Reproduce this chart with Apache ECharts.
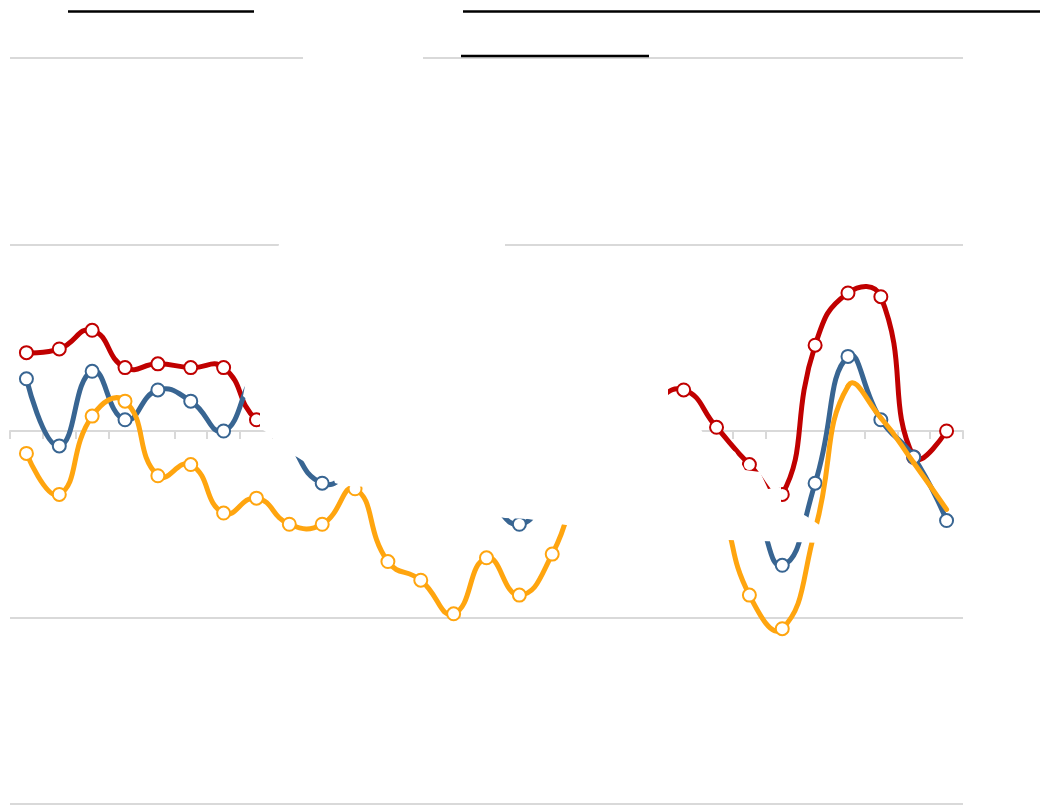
<!DOCTYPE html>
<html>
<head>
<meta charset="utf-8">
<script src="https://cdn.jsdelivr.net/npm/echarts@6/dist/echarts.min.js"></script>
<style>
  html, body { margin: 0; padding: 0; background: #ffffff; }
  #chart { width: 1050px; height: 808px; }
</style>
</head>
<body>
<div id="chart"></div>
<script>
// ---- data (hidden stretches estimated) ----
var categories = ['1','2','3','4','5','6','7','8','9','10','11','12','13','14','15',
                  '16','17','18','19','20','21','22','23','24','25','26','27','28','29'];
var redValues = [0.42, 0.44, 0.54, 0.34, 0.36, 0.34, 0.34, 0.06, 0.01, -0.10,
                 -0.05, -0.18, -0.21, -0.26, -0.21, -0.16, -0.08, -0.10, 0.01, 0.14,
                 0.22, 0.02, -0.18, -0.34, 0.46, 0.74, 0.72, -0.14, 0.00];
var blueValues = [0.28, -0.08, 0.32, 0.06, 0.22, 0.16, 0.00, 0.27, -0.05, -0.28,
                  -0.21, -0.13, -0.24, -0.32, -0.37, -0.50, -0.32, -0.21, -0.16, -0.26,
                  -0.21, -0.26, -0.37, -0.72, -0.28, 0.40, 0.06, -0.14, -0.48];
var orangeValues = [-0.12, -0.34, 0.08, 0.16, -0.24, -0.18, -0.44, -0.36, -0.50, -0.50,
                    -0.31, -0.70, -0.80, -0.98, -0.68, -0.88, -0.66, -0.21, -0.05, -0.13,
                    -0.18, -0.37, -0.88, -1.06, -0.53, 0.24, 0.07, -0.17, -0.42];
var orangeNoMarkerFrom = 24;
var yTicks = [-2, -1, 0, 1, 2];

// ---- styles ----
var RED = '#c00000', BLUE = '#386592', ORANGE = '#ffa50f', GRID = '#d9d9d9';
var SMOOTH = 0.5;

function cpAfter(prev, p, next) {
  if (!prev) return p;
  var vx = next[0] - prev[0], vy = next[1] - prev[1];
  var d0 = Math.hypot(p[0] - prev[0], p[1] - prev[1]);
  var d1 = Math.hypot(next[0] - p[0], next[1] - p[1]);
  var r = SMOOTH * d1 / (d0 + d1);
  return [p[0] + vx * r, p[1] + vy * r];
}
function cpBefore(prev, p, next) {
  if (!next) return p;
  var vx = next[0] - prev[0], vy = next[1] - prev[1];
  var d0 = Math.hypot(p[0] - prev[0], p[1] - prev[1]);
  var d1 = Math.hypot(next[0] - p[0], next[1] - p[1]);
  var r = SMOOTH * d0 / (d0 + d1);
  return [p[0] - vx * r, p[1] - vy * r];
}

function curveSeries(name, values, color, z) {
  return {
    name: name,
    type: 'custom',
    z: z,
    silent: true,
    encode: { x: 0, y: 1 },
    data: values.map(function (v, i) { return [i, v]; }),
    renderItem: function (params, api) {
      var i = params.dataIndex, n = values.length;
      if (i >= n - 1) return null;
      var P = function (k) { return api.coord([k, values[k]]); };
      var p0 = P(i), p1 = P(i + 1);
      var prev = i > 0 ? P(i - 1) : null;
      var next2 = i + 2 < n ? P(i + 2) : null;
      var a = cpAfter(prev, p0, p1);
      var b = cpBefore(p0, p1, next2);
      return {
        type: 'bezierCurve',
        shape: { x1: p0[0], y1: p0[1], x2: p1[0], y2: p1[1],
                 cpx1: a[0], cpy1: a[1], cpx2: b[0], cpy2: b[1] },
        style: { stroke: color, lineWidth: 5, fill: null, lineCap: 'round' }
      };
    }
  };
}

function markerSeries(name, values, color, z, noMarkerFrom) {
  return {
    name: name,
    type: 'scatter',
    z: z,
    silent: true,
    symbol: 'circle',
    symbolSize: 13,
    data: values.map(function (v, i) {
      return (noMarkerFrom != null && i >= noMarkerFrom) ? '-' : v;
    }),
    itemStyle: { color: '#ffffff', borderColor: color, borderWidth: 2, opacity: 1 },
    emphasis: { disabled: true }
  };
}

var chart = echarts.init(document.getElementById('chart'), null, { renderer: 'canvas' });

var occluderBig = [
  [281,236],[505,236],[505,250],[560,300],[668,385],[668,400],[690,410],[703,433],
  [735,452],[745,470],[760,472],[768,489],[781,487],[781,503],[806,516],[824,528],
  [824,543],[728,540],[600,530],[566,525],[528,519],[505,518],[440,506],[385,500],
  [370,487],[345,486],[335,483],[331,471],[316,469],[297,457],[286,452],[266,432],
  [260,428],[260,411],[243,396],[247,375],[281,236]
];

chart.setOption({
  animation: false,
  backgroundColor: '#ffffff',
  grid: { left: 10, right: 87, top: 58, bottom: 4, containLabel: false },
  xAxis: {
    type: 'category',
    data: categories,
    boundaryGap: true,
    axisLine: { onZero: true, lineStyle: { color: GRID, width: 2 } },
    axisTick: { show: true, length: 8, lineStyle: { color: GRID, width: 2 } },
    axisLabel: { show: false },
    splitLine: { show: false }
  },
  yAxis: {
    type: 'value',
    min: yTicks[0],
    max: yTicks[yTicks.length - 1],
    interval: 1,
    axisLine: { show: false },
    axisTick: { show: false },
    axisLabel: { show: false },
    splitLine: { show: true, lineStyle: { color: GRID, width: 2 } }
  },
  tooltip: { show: false },
  series: [
    curveSeries('Red', redValues, RED, 2),
    markerSeries('Red markers', redValues, RED, 3, null),
    curveSeries('Blue', blueValues, BLUE, 4),
    markerSeries('Blue markers', blueValues, BLUE, 5, null),
    curveSeries('Orange', orangeValues, ORANGE, 6),
    markerSeries('Orange markers', orangeValues, ORANGE, 7, orangeNoMarkerFrom)
  ],
  graphic: [
    { type: 'polygon', z: 100, silent: true, shape: { points: occluderBig }, style: { fill: '#ffffff' } },
    { type: 'rect', z: 100, silent: true, shape: { x: 303, y: 50, width: 120, height: 16 }, style: { fill: '#ffffff' } },
    { type: 'line', z: 101, silent: true, shape: { x1: 68, y1: 11.5, x2: 254, y2: 11.5 }, style: { stroke: '#000000', lineWidth: 2.5 } },
    { type: 'line', z: 101, silent: true, shape: { x1: 463, y1: 11.5, x2: 1040, y2: 11.5 }, style: { stroke: '#000000', lineWidth: 2.5 } },
    { type: 'line', z: 101, silent: true, shape: { x1: 461, y1: 56, x2: 649, y2: 56 }, style: { stroke: '#000000', lineWidth: 2.5 } }
  ]
});
</script>
</body>
</html>
